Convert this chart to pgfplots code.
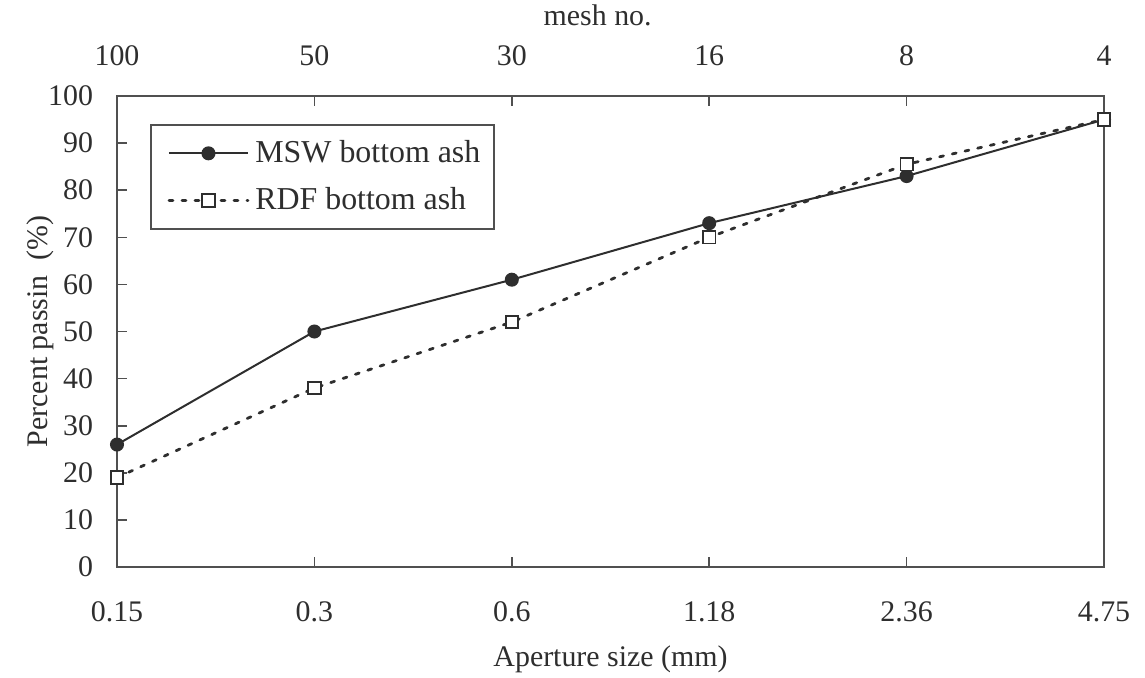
\documentclass[border=0pt]{standalone}
\usepackage{fontspec}
\setmainfont{Liberation Serif}
\usepackage{pgfplots}
\pgfplotsset{compat=1.18}
\definecolor{ink}{HTML}{2E2E2E}
\definecolor{frame}{HTML}{505050}

\pgfplotsset{
  common/.style={
    at={(0,0)}, anchor=south west,
    scale only axis, width=493.5bp, height=235.5bp,
    xmin=0, xmax=5, ymin=0, ymax=100,
    xtick={0,...,5},
    tick align=inside, major tick length=5bp,
    axis line style={frame, line width=1bp},
    tick style={frame, line width=0.8bp},
    tick label style={font=\fontsize{15}{18}\selectfont, text=ink},
    label style={font=\fontsize{15}{18}\selectfont, text=ink},
    /pgf/number format/assume math mode=true,
  },
}

\begin{document}
\begin{tikzpicture}[x=1bp,y=1bp]
\path[use as bounding box] (-58.5,-55) rectangle (514,283.5);

% bottom axis: aperture size
\begin{axis}[common,
  xticklabels={0.15,0.3,0.6,1.18,2.36,4.75},
  ytick={0,10,...,100},
  xtick pos=bottom, ytick pos=left,
  xticklabel shift=14bp, yticklabel shift=8.5bp,
  xlabel={Aperture size (mm)},
  ylabel={Percent passin~~(\%)},
  xlabel style={at={(axis description cs:0.5,-0.197)}, anchor=center},
  ylabel style={at={(axis description cs:-0.078,0.5)}, anchor=center},
  legend style={at={(axis description cs:0.033,0.941)}, anchor=north west,
    draw=frame, line width=1bp, fill=white,
    font=\fontsize{16}{19}\selectfont, text=ink,
    inner xsep=4bp, inner ysep=6bp, row sep=7bp,
    nodes={inner xsep=3bp}},
  legend cell align=left,
  legend image code/.code={
    \path (-4.5bp,0bp);
    \draw[mark repeat=2, mark phase=2, #1]
      plot coordinates {(0bp,0bp) (19.75bp,0bp) (39.5bp,0bp)};},
]
\addplot[ink, line width=1bp, mark=*, mark size=3bp,
  mark options={fill=ink, solid}]
  coordinates {(0,26) (1,50) (2,61) (3,73) (4,83) (5,95)};
\addlegendentry{MSW bottom ash}
\addplot[ink, line width=1.4bp, line cap=round, dash pattern=on 2bp off 4.5bp,
  mark=square*, mark size=3.1bp,
  mark options={fill=white, solid, line width=0.9bp}]
  coordinates {(0,19) (1,38) (2,52) (3,70) (4,85.5) (5,95)};
\addlegendentry{RDF bottom ash}
\end{axis}

% top axis: mesh number
\begin{axis}[common,
  axis x line*=top, axis y line=none,
  xticklabels={100,50,30,16,8,4},
  xticklabel shift=11.5bp,
  xlabel={mesh no.},
  xlabel style={at={(axis description cs:0.487,1.172)}, anchor=center},
]
\end{axis}
\end{tikzpicture}
\end{document}
